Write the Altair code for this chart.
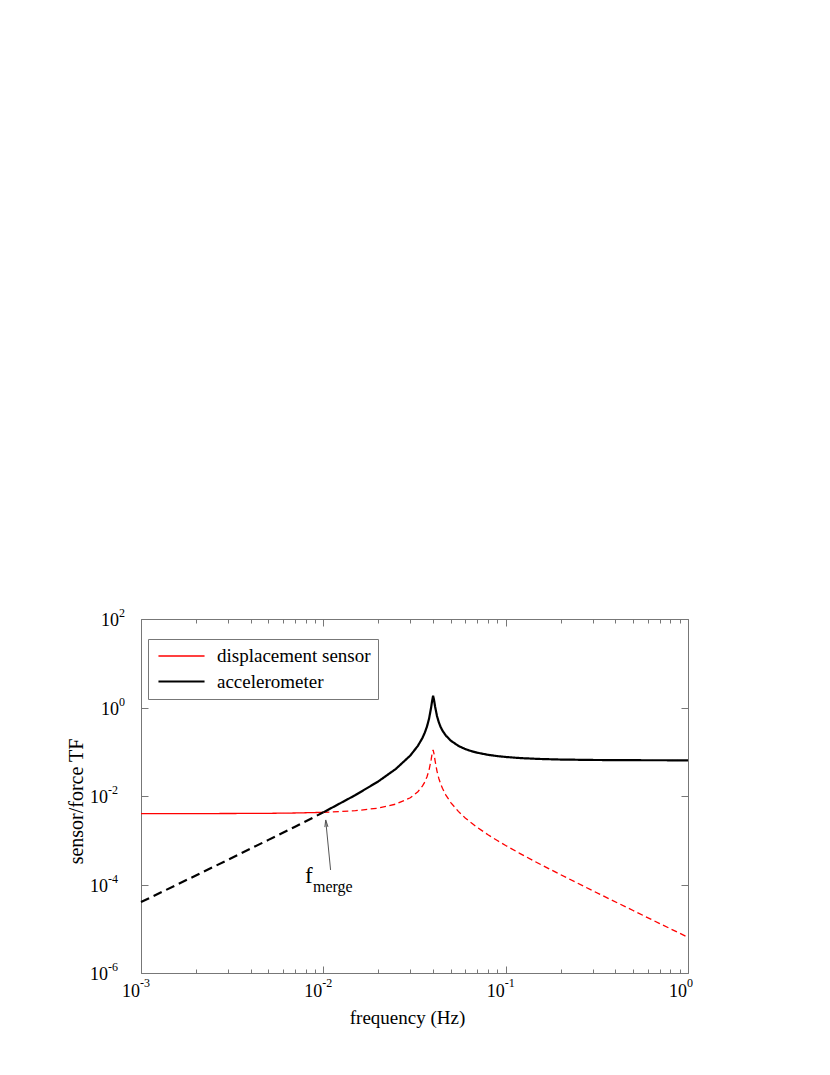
import altair as alt
import pandas as pd

# ---- data ----
freq = [0.001, 0.002, 0.003, 0.005, 0.007, 0.01, 0.015, 0.02, 0.025, 0.03,
        0.033, 0.035, 0.036, 0.037, 0.038, 0.039, 0.0395, 0.04, 0.0405, 0.041,
        0.042, 0.043, 0.044, 0.045, 0.047, 0.05, 0.055, 0.06, 0.065, 0.07,
        0.08, 0.09, 0.1, 0.12, 0.15, 0.2, 0.3, 0.5, 0.7, 1.0]
displacement = [4.00e-3, 4.01e-3, 4.02e-3, 4.06e-3, 4.13e-3, 4.27e-3, 4.65e-3, 5.33e-3, 6.56e-3, 9.14e-3,
                1.25e-2, 1.69e-2, 2.07e-2, 2.70e-2, 3.86e-2, 6.54e-2, 9.05e-2, 1.10e-1, 8.86e-2, 6.32e-2,
                3.65e-2, 2.49e-2, 1.87e-2, 1.49e-2, 1.05e-2, 7.11e-3, 4.49e-3, 3.20e-3, 2.44e-3, 1.94e-3,
                1.33e-3, 9.85e-4, 7.62e-4, 5.00e-4, 3.06e-4, 1.67e-4, 7.24e-5, 2.58e-5, 1.31e-5, 6.41e-6]
accelerometer = [4.00e-5, 1.60e-4, 3.62e-4, 1.02e-3, 2.02e-3, 4.27e-3, 1.05e-2, 2.13e-2, 4.10e-2, 8.23e-2,
                 1.36e-1, 2.07e-1, 2.69e-1, 3.69e-1, 5.57e-1, 9.95e-1, 1.41, 1.85, 1.45, 1.06,
                 6.44e-1, 4.60e-1, 3.62e-1, 3.01e-1, 2.32e-1, 1.78e-1, 1.36e-1, 1.15e-1, 1.03e-1, 9.50e-2,
                 8.53e-2, 7.98e-2, 7.62e-2, 7.20e-2, 6.89e-2, 6.67e-2, 6.52e-2, 6.44e-2, 6.42e-2, 6.41e-2]
merge_freq = 0.01

series_names = ["displacement sensor", "accelerometer"]
series_colors = ["#ff0000", "#000000"]
series_widths = [1.3, 2.2]
segment_names = ["disp solid", "disp dashed", "acc dashed", "acc solid"]
segment_dashes = [[1, 0], [6, 3.5], [9, 5], [1, 0]]

x_major = [0.001, 0.01, 0.1, 1.0]
x_exponents = ["-3", "-2", "-1", "0"]
x_minor = [0.002, 0.003, 0.004, 0.005, 0.006, 0.007, 0.008, 0.009,
           0.02, 0.03, 0.04, 0.05, 0.06, 0.07, 0.08, 0.09,
           0.2, 0.3, 0.4, 0.5, 0.6, 0.7, 0.8, 0.9]
y_major = [1e-6, 1e-4, 1e-2, 1.0, 1e2]
y_exponents = ["-6", "-4", "-2", "0", "2"]
tick_base = "10"

# annotation (f_merge label and arrow), in data coordinates
label_f = {"f": 0.00794, "v": 1.08e-4, "text": "f"}
label_sub = {"f": 0.00878, "v": 6.8e-5, "text": "merge"}
arrow = {"f": 0.01096, "v": 2.13e-4, "f2": 0.0103, "v2": 2.87e-3}
arrow_head = {"f": 0.01035, "v": 2.39e-3}

# ---- build tables ----
rows = []
for f, d, a in zip(freq, displacement, accelerometer):
    if f <= merge_freq:
        rows.append({"f": f, "v": d, "series": series_names[0], "seg": segment_names[0]})
        rows.append({"f": f, "v": a, "series": series_names[1], "seg": segment_names[2]})
    if f >= merge_freq:
        rows.append({"f": f, "v": d, "series": series_names[0], "seg": segment_names[1]})
        rows.append({"f": f, "v": a, "series": series_names[1], "seg": segment_names[3]})
df = pd.DataFrame(rows)
df_xlab = pd.DataFrame({"t": x_major, "e": x_exponents})
df_ylab = pd.DataFrame({"t": y_major, "e": y_exponents, "neg": [e.startswith("-") for e in y_exponents]})

FONT = "Liberation Serif"
GRAY = "#777777"
W, H = 547, 354
xs = alt.Scale(type="log", domain=[0.001, 1.0], nice=False)
ys = alt.Scale(type="log", domain=[1e-6, 1e2], nice=False)

common = dict(grid=False, domain=False, ticks=True, tickColor=GRAY, tickWidth=1, labels=False)

ax_bottom = alt.Axis(orient="bottom", values=x_major, tickSize={"expr": "-7"},
                     title="frequency (Hz)", titleFont=FONT, titleFontSize=19, titleFontWeight="normal",
                     titleColor="black", titleX=266, titleY=50, titleBaseline="alphabetic", **common)
ax_left = alt.Axis(orient="left", values=y_major, tickSize={"expr": "-7"},
                   title="sensor/force TF", titleFont=FONT, titleFontSize=20, titleFontWeight="normal",
                   titleColor="black", titleX=-59, titleY=182, titleAngle=270,
                   titleBaseline="alphabetic", **common)
ax_top = alt.Axis(orient="top", values=x_major, tickSize={"expr": "-7"}, title=None, **common)
ax_right = alt.Axis(orient="right", values=y_major, tickSize={"expr": "-7"}, title=None, **common)
ax_bottom_minor = alt.Axis(orient="bottom", values=x_minor, tickSize={"expr": "-4"}, title=None, **common)
ax_top_minor = alt.Axis(orient="top", values=x_minor, tickSize={"expr": "-4"}, title=None, **common)

# legend swatch: a 46px horizontal stroke drawn with an 18px symbol size
leg = alt.Legend(title=None, orient="none", legendX=7, legendY=20,
                 symbolType="M-2.56,0L2.56,0", symbolSize=324, symbolOffset=16,
                 labelFont=FONT, labelFontSize=19, labelColor="black",
                 labelExpr="datum.label + '\u2003'",
                 padding=7, strokeColor=GRAY, fillColor="white", labelOffset=25,
                 labelLimit=400, cornerRadius=0, rowPadding=5)

lines = alt.Chart(df).mark_line(strokeCap="butt").encode(
    x=alt.X("f:Q", scale=xs, axis=ax_bottom),
    y=alt.Y("v:Q", scale=ys, axis=ax_left),
    color=alt.Color("series:N", scale=alt.Scale(domain=series_names, range=series_colors), legend=leg),
    strokeWidth=alt.StrokeWidth("series:N", scale=alt.Scale(domain=series_names, range=series_widths),
                                legend=leg),
    strokeDash=alt.StrokeDash("seg:N", scale=alt.Scale(domain=segment_names, range=segment_dashes),
                              legend=None),
    order="f:Q",
)

t_f = alt.Chart(pd.DataFrame([label_f])).mark_text(font=FONT, fontSize=23, align="left",
                                                    baseline="alphabetic", color="black").encode(
    x=alt.X("f:Q", scale=xs, axis=ax_top),
    y=alt.Y("v:Q", scale=ys, axis=ax_right),
    text="text:N",
)
t_sub = alt.Chart(pd.DataFrame([label_sub])).mark_text(font=FONT, fontSize=16, align="left",
                                                        baseline="alphabetic", color="black").encode(
    x=alt.X("f:Q", scale=xs, axis=ax_bottom_minor),
    y=alt.Y("v:Q", scale=ys, axis=None),
    text="text:N",
)
arr = alt.Chart(pd.DataFrame([arrow])).mark_rule(color="#555555", strokeWidth=1).encode(
    x=alt.X("f:Q", scale=xs, axis=ax_top_minor),
    y=alt.Y("v:Q", scale=ys, axis=None),
    x2="f2:Q",
    y2="v2:Q",
)
head = alt.Chart(pd.DataFrame([arrow_head])).mark_point(
    shape="M-0.45,1L0,-1L0.45,1", filled=False, color="#555555", strokeWidth=1, size=49, angle=354,
    opacity=1).encode(
    x=alt.X("f:Q", scale=xs, axis=None),
    y=alt.Y("v:Q", scale=ys, axis=None),
)

# tick labels: "10" with a raised exponent
xl_base = alt.Chart(df_xlab).mark_text(text=tick_base, font=FONT, fontSize=18, align="right",
                                       baseline="alphabetic", dx=-1, dy=24, color="black").encode(
    x=alt.X("t:Q", scale=xs, axis=None), y=alt.value(H))
xl_exp = alt.Chart(df_xlab).mark_text(font=FONT, fontSize=12, align="left",
                                      baseline="alphabetic", dx=-1, dy=14, color="black").encode(
    x=alt.X("t:Q", scale=xs, axis=None), y=alt.value(H), text="e:N")


def ylab(neg, gap):
    flt = "datum.neg" if neg else "!datum.neg"
    base = alt.Chart(df_ylab).transform_filter(flt).mark_text(
        text=tick_base, font=FONT, fontSize=18, align="right", baseline="alphabetic",
        dx=-gap, dy=7, color="black").encode(
        x=alt.value(0), y=alt.Y("t:Q", scale=ys, axis=None))
    exp = alt.Chart(df_ylab).transform_filter(flt).mark_text(
        font=FONT, fontSize=12, align="left", baseline="alphabetic",
        dx=-gap, dy=-2, color="black").encode(
        x=alt.value(0), y=alt.Y("t:Q", scale=ys, axis=None), text="e:N")
    return [base, exp]


layers = [lines, t_f, t_sub, arr, head, xl_base, xl_exp] + ylab(False, 22) + ylab(True, 33)

chart = alt.layer(*layers).resolve_axis(
    x="independent", y="independent"
).resolve_scale(x="shared", y="shared").properties(
    width=W, height=H,
    autosize=alt.AutoSizeParams(type="none"),
    padding={"left": 133, "top": 611, "right": 40, "bottom": 60},
).configure_view(stroke=GRAY, strokeWidth=1)

chart.save("out.html", embed_options={"renderer": "svg", "actions": False})
